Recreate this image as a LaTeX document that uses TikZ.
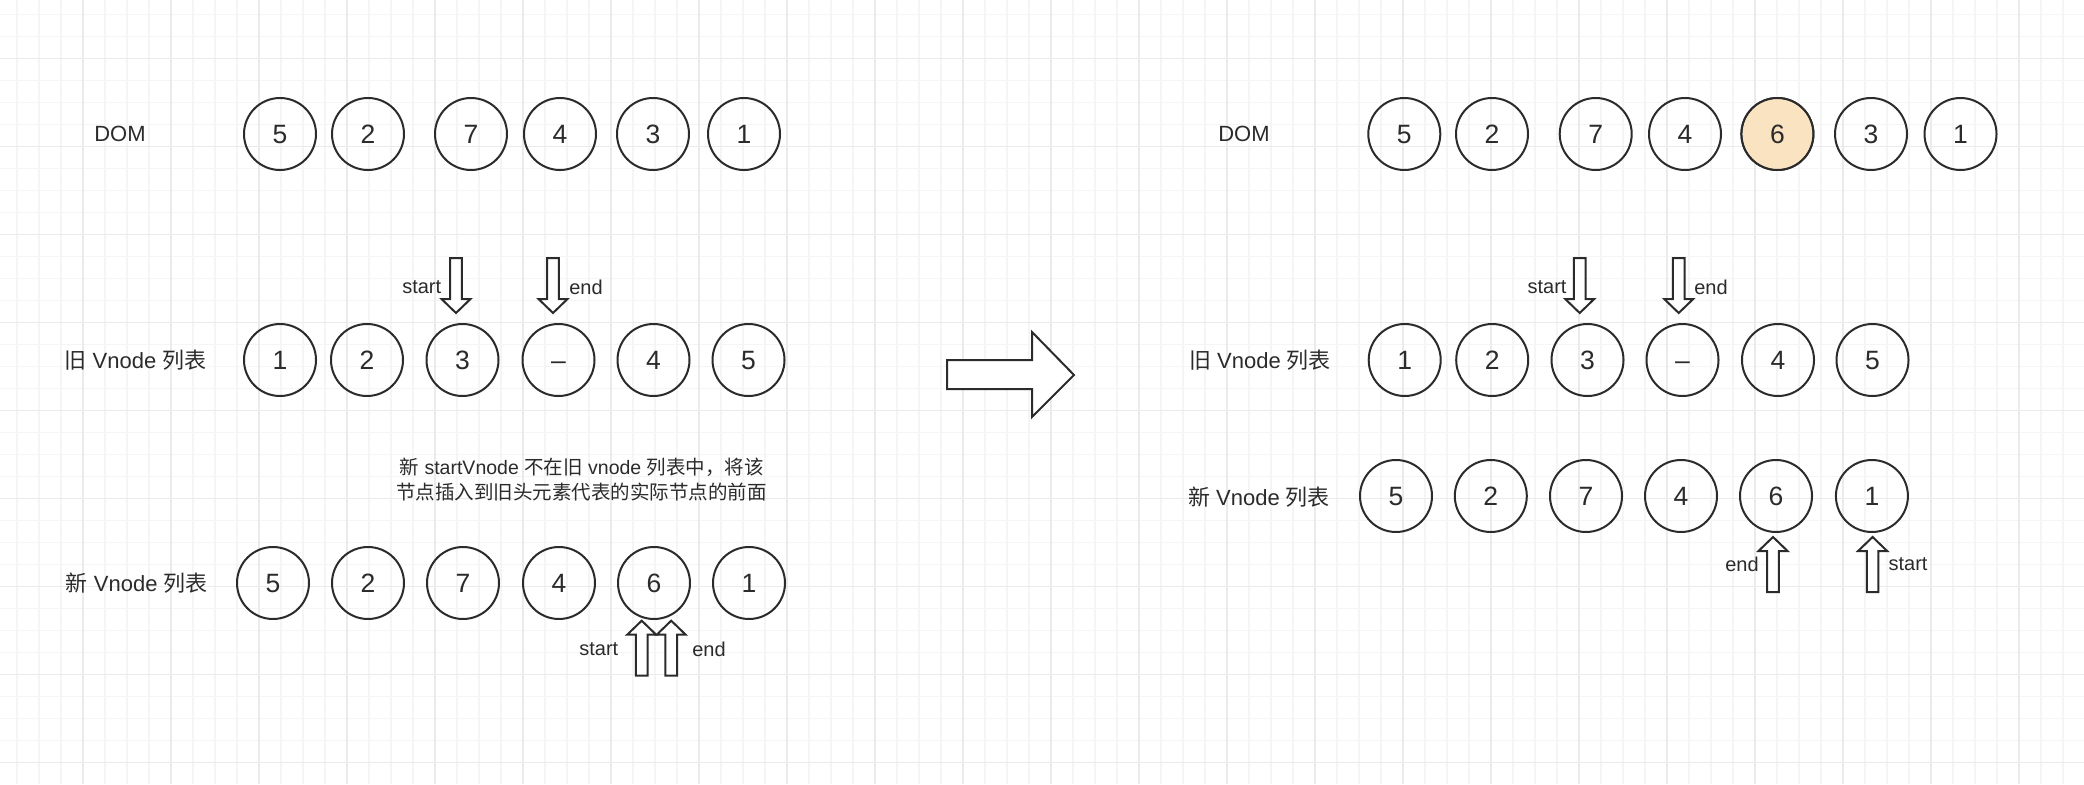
\documentclass[tikz,border=0pt]{standalone}
\usepackage{fontspec}
\setmainfont{Liberation Sans}
\newfontfamily\cjk{Noto Sans CJK SC}
\usetikzlibrary{calc}
\definecolor{ink}{HTML}{2B2B2B}
\definecolor{peach}{HTML}{FAE3C1}
\definecolor{gridminor}{HTML}{F5F5F5}
\definecolor{gridmajor}{HTML}{EBEBEB}
\newcommand{\pointer}[2]{\draw[ptr,shift={(#1)},rotate=#2] (0,0) -- (-14.5,-14) -- (-5.8,-14) -- (-5.8,-55) -- (5.8,-55) -- (5.8,-14) -- (14.5,-14) -- cycle;}

\begin{document}
\begin{tikzpicture}[x=1pt,y=-1pt,
  cell/.style={circle,draw=ink,line width=2pt,minimum size=72pt,inner sep=0pt,
    text height=19pt,text depth=0pt,text=ink,font=\fontsize{26.5}{30}\selectfont},
  lbl/.style={text=ink,font=\fontsize{22}{26}\selectfont},
  tag/.style={text=ink,font=\fontsize{20}{24}\selectfont},
  ptr/.style={draw=ink,line width=2pt,fill=white,line join=miter}]

  \useasboundingbox (0,0) rectangle (2084,784);
  \fill[white] (0,0) rectangle (2084,784);
  % grid paper
  \foreach \g in {17,39,...,2084} \draw[gridminor,line width=1.5pt] (\g,0) -- (\g,784);
  \foreach \g in {14.7,36.7,...,784} \draw[gridminor,line width=1.5pt] (0,\g) -- (2084,\g);
  \foreach \g in {83,171,...,2084} \draw[gridmajor,line width=1.5pt] (\g,0) -- (\g,784);
  \foreach \g in {58.7,146.7,...,784} \draw[gridmajor,line width=1.5pt] (0,\g) -- (2084,\g);

  % left: before
  \node[lbl] (ldom) at (120,134) {DOM};
  \node[lbl] (lold) at (135.5,360) {{\cjk 旧} Vnode {\cjk 列表}};
  \node[lbl] (lnew) at (136.7,583) {{\cjk 新} Vnode {\cjk 列表}};
  \foreach \v/\x [count=\i] in {5/280,2/368,7/471,4/560,3/653,1/744}
    \node[cell] (ld\i) at (\x,134) {\v};
  \foreach \v/\x [count=\i] in {1/280,2/367,3/462.5,\textendash/558.5,4/653.5,5/748.5}
    \node[cell] (lo\i) at (\x,360) {\v};
  \foreach \v/\x [count=\i] in {5/273,2/368,7/463,4/559,6/654,1/749}
    \node[cell] (ln\i) at (\x,583) {\v};

  \coordinate (los) at (456,313);
  \coordinate (loe) at (553,313);
  \coordinate (lns) at (641.7,620.7);
  \coordinate (lne) at (671.2,620.7);
  \pointer{los}{0}
  \pointer{loe}{0}
  \pointer{lns}{180}
  \pointer{lne}{180}
  \node[tag] (tlos) at (421.7,287) {start};
  \node[tag] (tloe) at (586,287) {end};
  \node[tag] (tlns) at (598.8,649) {start};
  \node[tag] (tlne) at (709,649) {end};

  \node[tag,align=center,font=\fontsize{19.5}{24.4}\selectfont] (note) at (581.7,479.5)
    {{\cjk 新} startVnode {\cjk 不在旧} vnode {\cjk 列表中，将该}\\{\cjk 节点插入到旧头元素代表的实际节点的前面}};

  % big arrow
  \draw[ptr] (947,360) -- (1032,360) -- (1032,332) -- (1074,375) -- (1032,417)
    -- (1032,389) -- (947,389) -- cycle;

  % right: after
  \node[lbl] (rdom) at (1244,134) {DOM};
  \node[lbl] (rold) at (1260,360) {{\cjk 旧} Vnode {\cjk 列表}};
  \node[lbl] (rnew) at (1259,497) {{\cjk 新} Vnode {\cjk 列表}};
  \foreach \v/\x [count=\i] in {5/1404.3,2/1492,7/1595.7,4/1685,6/1777.4,3/1871,1/1960.5}
    \node[cell] (rd\i) at (\x,134) {\v};
  \fill[peach] (rd5) circle (35);
  \node[cell] at (rd5) {6};
  \foreach \v/\x [count=\i] in {1/1404.7,2/1492.2,3/1587.5,\textendash/1682.5,4/1778,5/1872.5}
    \node[cell] (ro\i) at (\x,360) {\v};
  \foreach \v/\x [count=\i] in {5/1396,2/1490.8,7/1586,4/1681,6/1776,1/1871.9}
    \node[cell] (rn\i) at (\x,496) {\v};

  \coordinate (ros) at (1579.7,313);
  \coordinate (roe) at (1678.7,313);
  \coordinate (rne) at (1773,537);
  \coordinate (rns) at (1872.6,537);
  \pointer{ros}{0}
  \pointer{roe}{0}
  \pointer{rne}{180}
  \pointer{rns}{180}
  \node[tag] (tros) at (1547,287) {start};
  \node[tag] (troe) at (1711,287) {end};
  \node[tag] (trne) at (1742,564) {end};
  \node[tag] (trns) at (1908,564) {start};
\end{tikzpicture}
\end{document}
